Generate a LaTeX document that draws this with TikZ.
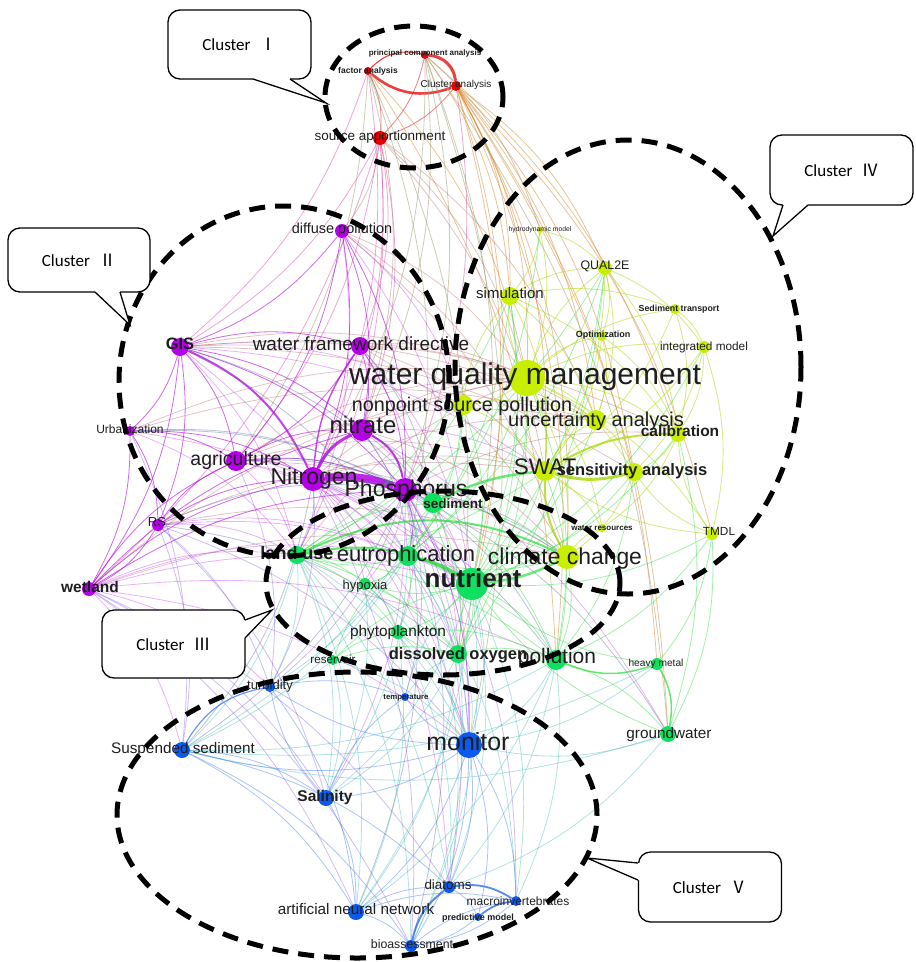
\documentclass[tikz,border=0pt]{standalone}
\usepackage{fontspec}
\setmainfont{Liberation Sans}
\newfontfamily\cjkf{Noto Sans CJK SC}
\newfontfamily\calf{Carlito}
\usetikzlibrary{shapes.geometric}
\pgfdeclarelayer{bg}
\pgfsetlayers{bg,main}
\definecolor{cR}{HTML}{E60000}
\definecolor{cP}{HTML}{B400E6}
\definecolor{cY}{HTML}{C8EE00}
\definecolor{cG}{HTML}{10E060}
\definecolor{cB}{HTML}{0A5AF0}
\definecolor{lblc}{HTML}{1E1E1E}
\definecolor{eOc}{HTML}{D88A30}
\definecolor{eTc}{HTML}{9A9A70}
\definecolor{eKc}{HTML}{E050B0}
\definecolor{eBrc}{HTML}{B05858}
\definecolor{eSc}{HTML}{5868A0}
\definecolor{eYc}{HTML}{A8D800}
\definecolor{eGc}{HTML}{30E040}
\definecolor{eCc}{HTML}{20B0A8}
\definecolor{eBc}{HTML}{3070F0}
\definecolor{eVc}{HTML}{7848E0}
\newcommand\kw[9]{%
  \node[dot, minimum size=#4*2, fill=#5] (#1) at (#2,#3) {};
  \node[lbl, font=\fontsize{#6}{#6}\selectfont] (#1-l) at (#7,{#8+0.27*#6}) {#9};
}
\newcommand\clab[1]{{\calf Cluster}\hspace{9pt}{\cjkf #1}}
\tikzset{
  dot/.style={circle, inner sep=0pt, draw=none},
  lbl/.style={inner sep=0pt, text=lblc, anchor=base},
  ed/.style={line width=0.8pt, bend left=15},
  eR/.style={ed, draw=cR, opacity=0.75},
  eO/.style={ed, draw=eOc, opacity=0.5},
  eT/.style={ed, draw=eTc, opacity=0.5},
  eK/.style={ed, draw=eKc, opacity=0.5},
  eP/.style={ed, draw=cP, opacity=0.3},
  ePs/.style={ed, draw=cP, opacity=0.6},
  eBr/.style={ed, draw=eBrc, opacity=0.35},
  eS/.style={ed, draw=eSc, opacity=0.4},
  eY/.style={ed, draw=eYc, opacity=0.5},
  eG/.style={ed, draw=eGc, opacity=0.45},
  eC/.style={ed, draw=eCc, opacity=0.35},
  eB/.style={ed, draw=eBc, opacity=0.4},
  eV/.style={ed, draw=eVc, opacity=0.35},
  clus/.style={draw=black, line width=5pt, dash pattern=on 16pt off 10pt, ellipse, inner sep=0pt},
  cbox/.style={draw=black, line width=1.3pt, fill=white, rounded corners=12pt, inner sep=0pt, font=\fontsize{17}{20}\selectfont},
  tail/.style={draw=black, line width=1.3pt, line join=miter}
}
\begin{document}
\begin{tikzpicture}[x=1pt, y=-1pt]
\begin{pgfonlayer}{bg}
\fill[white] (0,0) rectangle (916,962);
\end{pgfonlayer}
\useasboundingbox (0,0) rectangle (916,962);

% ---------------- nodes ----------------
% Cluster I (red)
\kw{pca}{425}{55}{4}{cR}{8}{425}{53}{\bfseries principal component analysis}
\kw{fa}{368}{71}{4}{cR}{8.5}{368}{71}{\bfseries factor analysis}
\kw{ca}{456}{86}{5}{cR}{10}{456}{85}{Cluster analysis}
\kw{sa}{380}{138}{7}{cR}{13.5}{380}{137}{source apportionment}
% Cluster II (purple)
\kw{dp}{342}{231}{7}{cP}{14.5}{342}{230}{diffuse pollution}
\kw{gis}{180}{347}{9}{cP}{16.5}{180}{345}{\bfseries GIS}
\kw{wfd}{360}{346}{9}{cP}{19}{361}{345}{water framework directive}
\kw{urb}{130}{431}{5}{cP}{12}{130}{430}{Urbanization}
\kw{agr}{236}{461}{10}{cP}{19.5}{236}{460}{agriculture}
\kw{nit}{362}{430}{11}{cP}{24}{363}{427}{nitrate}
\kw{N}{313}{479}{12}{cP}{23}{314}{478}{Nitrogen}
\kw{P}{405}{490}{12}{cP}{23}{406}{490}{Phosphorus}
\kw{rs}{158}{525}{6}{cP}{13}{157}{523}{RS}
\kw{wet}{89}{589}{7}{cP}{15.5}{90}{588}{\bfseries wetland}
% Cluster IV (yellow-green)
\kw{hyd}{540}{230}{3}{cY}{6.8}{540}{230}{hydrodynamic model}
\kw{q2e}{605}{268}{7}{cY}{12.4}{605}{266}{QUAL2E}
\kw{sim}{510}{296}{9}{cY}{15}{510}{294}{simulation}
\kw{sedt}{675}{309}{5}{cY}{8.8}{679}{309}{\bfseries Sediment transport}
\kw{opt}{602}{336}{5}{cY}{9}{603}{335}{\bfseries Optimization}
\kw{im}{704}{347}{6}{cY}{11.8}{704}{347}{integrated model}
\kw{wqm}{527}{378}{18}{cY}{30}{525}{376}{water quality management}
\kw{nps}{463}{405}{10}{cY}{19.8}{462}{406}{nonpoint source pollution}
\kw{ua}{596}{420}{10}{cY}{20}{596}{421}{uncertainty analysis}
\kw{cal}{678}{434}{8}{cY}{15.5}{680}{432}{\bfseries calibration}
\kw{swat}{545}{471}{10}{cY}{22.5}{545}{468}{SWAT}
\kw{sens}{634}{472}{9}{cY}{16.5}{632}{471}{\bfseries sensitivity analysis}
\kw{wr}{602}{528}{4}{cY}{8}{602}{528}{\bfseries water resources}
\kw{tmdl}{712}{534}{6}{cY}{11.8}{719}{532}{TMDL}
\kw{cc}{567}{557}{12}{cY}{22.9}{565}{558}{climate change}
% Cluster III (green)
\kw{sed}{433}{503}{10}{cG}{13.5}{453}{505}{\bfseries sediment}
\kw{lu}{297}{555}{9}{cG}{18}{297}{555}{\bfseries land use}
\kw{eut}{408}{556}{10}{cG}{22}{406}{556}{eutrophication}
\kw{nut}{472}{584}{16}{cG}{26}{473}{580}{\bfseries nutrient}
\kw{hyp}{365}{584}{6}{cG}{13}{365}{586}{hypoxia}
\kw{phy}{398}{632}{7}{cG}{15.4}{398}{632}{phytoplankton}
\kw{do}{458}{654}{9}{cG}{16.5}{458}{655}{\bfseries dissolved oxygen}
\kw{pol}{556}{660}{10}{cG}{21}{557}{658}{pollution}
\kw{res}{333}{660}{5}{cG}{11.6}{333}{660}{reservoir}
\kw{hm}{657}{664}{6}{cG}{10.2}{656}{664}{heavy metal}
\kw{gw}{668}{734}{8}{cG}{15.3}{669}{734}{groundwater}
% Cluster V (blue)
\kw{tur}{270}{687}{5}{cB}{13}{270}{686}{turbidity}
\kw{tem}{405}{697}{4}{cB}{7.8}{406}{697}{\bfseries temperature}
\kw{ss}{182}{750}{8}{cB}{15.3}{183}{749}{Suspended sediment}
\kw{mon}{469}{745}{13}{cB}{24.9}{468}{744}{monitor}
\kw{sal}{326}{798}{8}{cB}{15.5}{325}{797}{\bfseries Salinity}
\kw{dia}{449}{887}{6}{cB}{13.4}{448}{886}{diatoms}
\kw{mac}{516}{901}{5}{cB}{12}{518}{902}{macroinvertebrates}
\kw{pm}{478}{917}{4}{cB}{9}{478}{918}{\bfseries predictive model}
\kw{ann}{356}{912}{8}{cB}{15.3}{356}{910}{artificial neural network}
\kw{bio}{411}{946}{6}{cB}{12.3}{412}{945}{bioassessment}

% ---------------- edges ----------------
\begin{pgfonlayer}{bg}
\draw[eR, line width=3pt, bend left=40] (pca) to (ca);
\draw[eR, line width=2.6pt, bend right=30] (fa) to (ca);
\draw[eR, line width=1.1pt, bend left=30] (fa) to (pca);
\foreach \a/\b in {fa/sa, ca/sa, pca/sa} \draw[eR, opacity=0.5] (\a) to (\b);
\foreach \a/\b in {ca/wqm, ca/sim, ca/swat, ca/cc, ca/pol, ca/nut, ca/tmdl, ca/gw, ca/hm, ca/q2e, fa/wqm, fa/pol, pca/sim, ca/do, pca/cal, ca/ua, ca/sens}
  \draw[eO] (\a) to (\b);
\foreach \a/\b in {pca/nit, pca/N, pca/P, fa/nit, fa/agr, pca/mon, fa/do, pca/gw, sa/dp, pca/hyd, fa/eut, pca/nut}
  \draw[eT] (\a) to (\b);
\foreach \a/\b in {sa/gis, sa/agr, sa/N, sa/nit, fa/N, ca/P, sa/wfd, sa/lu, fa/gis, sa/wet}
  \draw[eK] (\a) to (\b);
% purple internal
\draw[cP, line width=8pt, opacity=0.85, bend left=12] (N) to (P);
\draw[cP, line width=3pt, opacity=0.8, bend right=20] (nit) to (N);
\draw[cP, line width=2pt, opacity=0.8, bend left=25] (nit) to (P);
\draw[cP, line width=2pt, opacity=0.75, bend left=20] (gis) to (N);
\draw[cP, line width=1.5pt, opacity=0.7, bend right=15] (wfd) to (N);
\foreach \a/\b in {gis/urb, gis/rs, gis/wet, gis/agr, gis/wfd, gis/nit, gis/P, dp/nit, dp/N, dp/P, dp/agr, dp/gis, wfd/nit, wfd/P, wfd/agr, urb/rs, urb/N, urb/agr, rs/wet, rs/agr, rs/N, wet/N, wet/P, wet/nit, wet/agr, agr/N, agr/P, agr/nit, urb/wet}
  \draw[ePs] (\a) to (\b);
\foreach \a/\b in {wet/lu, wet/eut, wet/nut, wet/mon, wet/ss, wet/tur, rs/lu, rs/eut, rs/nut, gis/lu, gis/swat, gis/nps, urb/lu, urb/nut, agr/lu, agr/nut, agr/eut, N/nut, P/nut, N/eut, P/eut, P/sed, N/sed, P/hyp, N/hyp, P/phy, N/do, P/do, N/mon, P/mon, P/sal, N/dia, P/dia, nit/gw, nit/swat, nit/nut, dp/nps, dp/nut, dp/lu, wfd/mon, wfd/nut, wet/pol, gis/mon}
  \draw[eP] (\a) to (\b);
\foreach \a/\b in {gis/wqm, gis/ua, agr/wqm, wfd/wqm, wfd/swat, wfd/cc, nit/wqm, dp/wqm, dp/swat, gis/cal, urb/wqm, agr/swat, agr/cc, N/wqm, N/swat, rs/swat, wet/cc, lu/wqm, nit/cc, sa/swat, sa/wqm, sa/ua, gis/sens, urb/ua, agr/ua, wet/wqm, N/ua, P/cal, rs/cc, dp/cc, wfd/ua}
  \draw[eBr] (\a) to (\b);
\foreach \a/\b in {N/lu, P/lu, urb/P, rs/P, agr/sed, N/pol, P/pol, P/cc, N/cc, gis/eut, wfd/sed, nit/sed, nit/eut, P/gw, P/ss, N/ss, P/ann, P/bio, urb/sed, gis/sed, agr/P, rs/do}
  \draw[eS] (\a) to (\b);
% yellow internal
\draw[eY, line width=3pt, opacity=0.8, bend right=15] (swat) to (sens);
\draw[eY, line width=2pt, opacity=0.75] (swat) to (cal);
\draw[eY, line width=2pt, opacity=0.75] (cc) to (swat);
\foreach \a/\b in {wqm/sim, wqm/q2e, wqm/im, wqm/ua, wqm/cal, wqm/swat, wqm/sens, wqm/opt, wqm/nps, wqm/cc, wqm/tmdl, wqm/wr, wqm/sedt, swat/ua, ua/sens, ua/cal, cal/sens, sim/swat, sim/q2e, sim/sedt, sim/cal, sim/ua, q2e/opt, q2e/im, q2e/swat, q2e/ua, sedt/im, sedt/swat, opt/ua, opt/swat, im/cal, im/tmdl, im/swat, tmdl/swat, tmdl/cal, tmdl/sens, hyd/sim, hyd/wqm, cc/wr, nps/swat, nps/ua, nps/sim, swat/wr, sens/cc, im/sens, q2e/cal, hyd/q2e, cal/wr, sedt/cal, opt/cal}
  \draw[eY] (\a) to (\b);
\draw[eGc, line width=2.5pt, opacity=0.7, bend right=10] (swat) to (sed);
\draw[eGc, line width=2.5pt, opacity=0.7, bend left=10] (cc) to (nut);
\foreach \a/\b in {sim/nut, q2e/nut, q2e/eut, wqm/nut, wqm/eut, swat/nut, swat/lu, swat/pol, cc/eut, cc/pol, nps/nut, nps/eut, nps/lu, nps/sed, tmdl/nut, tmdl/pol, ua/nut, cal/nut, hyd/eut, sim/do, sim/eut, q2e/do, wqm/pol, wqm/do, sens/nut, im/nut, tmdl/gw, tmdl/hm, cal/gw, sim/lu, q2e/lu, sens/pol}
  \draw[eG] (\a) to (\b);
% green internal
\draw[eGc, line width=3pt, opacity=0.8, bend left=10] (eut) to (nut);
\draw[eGc, line width=2pt, opacity=0.75, bend left=25] (lu) to (cc);
\draw[eGc, line width=2pt, opacity=0.75, bend left=20] (lu) to (nut);
\draw[eGc, line width=1.5pt, opacity=0.75, bend right=20] (pol) to (hm);
\draw[eGc, line width=1.5pt, opacity=0.75, bend left=20] (hm) to (gw);
\foreach \a/\b in {nut/do, nut/phy, nut/pol, nut/hyp, nut/sed, eut/lu, eut/hyp, eut/phy, eut/do, eut/sed, lu/sed, lu/pol, lu/do, sed/pol, sed/do, pol/gw, do/pol, do/phy, hyp/do, res/eut, res/phy, res/nut, res/do, phy/pol, hyp/phy, lu/hyp, gw/nut, hm/nut, lu/phy, sed/cc}
  \draw[eG] (\a) to (\b);
% green to blue
\foreach \a/\b in {do/mon, gw/mon, hm/mon, pol/mon, nut/mon, eut/mon, phy/mon, lu/mon, lu/ss, lu/tur, lu/sal, lu/ann, lu/bio, lu/dia, eut/dia, eut/sal, nut/sal, nut/ann, nut/dia, nut/bio, do/ann, do/sal, phy/dia, res/tur, res/sal, tem/do, tem/nut, hyp/sal, gw/ss, pol/ss, pol/dia, pol/ann, sed/ss, sed/tur, eut/ss, phy/ann, do/bio, hyp/mon, res/mon, gw/dia, pol/mac, hm/ss, eut/mac, nut/mac}
  \draw[eC] (\a) to (\b);
% blue internal
\draw[eB, line width=2pt, opacity=0.8, bend right=20] (dia) to (bio);
\draw[eB, line width=1.8pt, opacity=0.8, bend left=20] (dia) to (mac);
\draw[eB, line width=1.8pt, opacity=0.8] (pm) to (mac);
\draw[eB, line width=1.2pt, opacity=0.7, bend left=25] (ss) to (tur);
\foreach \a/\b in {mon/ss, mon/sal, mon/tur, mon/dia, mon/mac, mon/bio, mon/ann, mon/tem, mon/pm, ss/sal, ss/ann, ss/bio, dia/pm, mac/bio, pm/bio, ann/dia, ann/bio, ann/mac, sal/tur, sal/tem, tur/tem, ss/dia, sal/ann, tur/ann, bio/mac}
  \draw[eB] (\a) to (\b);
\foreach \a/\b in {P/tur, P/tem, N/tur, rs/ss, rs/tur, wet/ann, wet/bio, rs/mon, P/mac, N/bio, urb/ss, lu/tem, wet/sal, nit/mon, agr/tur, P/mon, wet/dia, rs/sal}
  \draw[eV] (\a) to (\b);
\end{pgfonlayer}

% ---------------- cluster outlines ----------------
\node[clus, minimum width=178, minimum height=142] (e1) at (414,97) {};
\node[clus, minimum width=330, minimum height=350] (e2) at (284,381) {};
\node[clus, minimum width=354, minimum height=184] (e3) at (443,583) {};
\node[clus, minimum width=346, minimum height=454] (e4) at (628,367) {};
\node[clus, minimum width=480, minimum height=286] (e5) at (357,815) {};

% ---------------- callouts ----------------
\node[cbox, minimum width=143, minimum height=69] (c1) at (239.5,44.5) {\clab{Ⅰ}};
\node[cbox, minimum width=142, minimum height=64] (c2) at (79,260) {\clab{Ⅱ}};
\node[cbox, minimum width=143, minimum height=68] (c3) at (173.5,644) {\clab{Ⅲ}};
\node[cbox, minimum width=143, minimum height=70] (c4) at (841.5,170) {\clab{Ⅳ}};
\node[cbox, minimum width=143, minimum height=70] (c5) at (710,887) {\clab{Ⅴ}};
\coordinate (t1) at (326,103);
\coordinate (t2) at (130,325);
\coordinate (t3) at (272,610);
\coordinate (t4) at (773,236);
\coordinate (t5) at (587,858);
\fill[white] (253,77) -- (253,79) -- (t1) -- (290,79) -- (290,77) -- cycle;
\draw[tail] (253,79) -- (t1) -- (290,79);
\fill[white] (95,290) -- (95,292) -- (t2) -- (120,292) -- (120,290) -- cycle;
\draw[tail] (95,292) -- (t2) -- (120,292);
\fill[white] (243,620) -- (245,620) -- (t3) -- (245,638) -- (243,638) -- cycle;
\draw[tail] (245,620) -- (t3) -- (245,638);
\fill[white] (783,203) -- (783,205) -- (t4) -- (808,205) -- (808,203) -- cycle;
\draw[tail] (783,205) -- (t4) -- (808,205);
\fill[white] (640,863) -- (638,863) -- (t5) -- (638,880) -- (640,880) -- cycle;
\draw[tail] (638,863) -- (t5) -- (638,880);
\end{tikzpicture}
\end{document}
